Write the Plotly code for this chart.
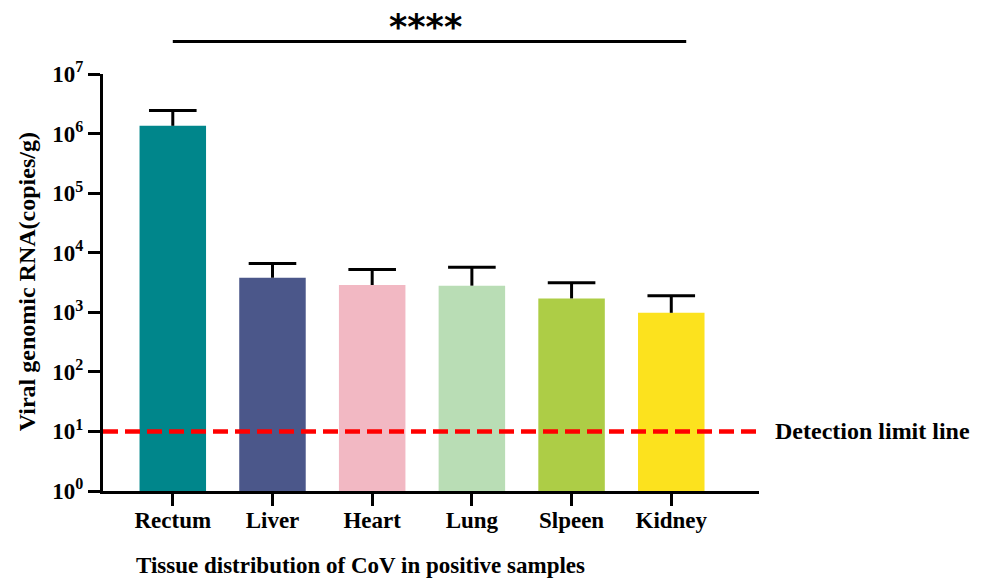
import plotly.graph_objects as go

categories = ["Rectum", "Liver", "Heart", "Lung", "Slpeen", "Kidney"]
means = [1.35e6, 3.8e3, 2.87e3, 2.8e3, 1.71e3, 0.98e3]
upper = [2.45e6, 6.6e3, 5.25e3, 5.7e3, 3.12e3, 1.89e3]
colors = ["#00868B", "#4B578A", "#F2B8C3", "#B9DDB5", "#ADCD46", "#FCE21E"]
detection_limit = 10
tick_vals = [1, 10, 100, 1e3, 1e4, 1e5, 1e6, 1e7]
tick_text = ["10<sup>%d</sup>" % i for i in range(8)]

FONT = "Liberation Serif"
xs = list(range(len(categories)))

fig = go.Figure()
fig.add_trace(go.Bar(
    x=xs, y=means,
    marker=dict(color=colors, line=dict(width=0)),
    width=0.667,
    error_y=dict(type="data", symmetric=False,
                 array=[u - m for u, m in zip(upper, means)],
                 arrayminus=[0] * len(means),
                 color="black", thickness=3, width=0),
    showlegend=False,
))
# error-bar caps (top only)
fig.add_trace(go.Scatter(
    x=xs, y=upper, mode="markers",
    marker=dict(symbol="line-ew", size=34, color="black",
                line=dict(color="black", width=3)),
    showlegend=False, hoverinfo="skip",
))

# detection limit line
fig.add_trace(go.Scatter(
    x=[-0.7, 5.87], y=[detection_limit, detection_limit], mode="lines",
    line=dict(color="#FF0000", width=4.5, dash="15px,7px"),
    showlegend=False, hoverinfo="skip",
))

fig.update_layout(
    width=975, height=571,
    margin=dict(l=95, r=224, t=66, b=88),
    plot_bgcolor="white", paper_bgcolor="white",
    font=dict(family=FONT, color="black", size=22, weight="bold"),
    xaxis=dict(
        range=[-0.7, 5.88], tickmode="array",
        tickvals=xs, ticktext=categories,
        showline=True, linecolor="black", linewidth=3,
        ticks="outside", ticklen=12, tickwidth=3, tickcolor="black",
        showgrid=False, zeroline=False, automargin=False,
        ticklabelstandoff=-6,
        tickfont=dict(family=FONT, size=23, weight="bold"),
    ),
    yaxis=dict(
        type="log", range=[0, 7], tickmode="array",
        tickvals=tick_vals, ticktext=tick_text,
        showline=True, linecolor="black", linewidth=3,
        ticks="outside", ticklen=12, tickwidth=3, tickcolor="black",
        showgrid=False, zeroline=False, automargin=False,
        tickfont=dict(family=FONT, size=23, weight="bold"),
    ),
    annotations=[
        dict(text="Viral genomic RNA(copies/g)", xref="paper", yref="paper",
             x=-0.116, y=0.503, textangle=-90, showarrow=False,
             xanchor="center", yanchor="middle",
             font=dict(family=FONT, size=24, weight="bold")),
        dict(text="Tissue distribution of CoV in positive samples",
             xref="paper", yref="paper", x=0.393, y=-0.178, showarrow=False,
             xanchor="center", yanchor="middle",
             font=dict(family=FONT, size=23, weight="bold")),
        dict(text="Detection limit line", xref="paper", yref="y",
             x=1.021, y=1, showarrow=False, xanchor="left", yanchor="middle",
             font=dict(family=FONT, size=24, weight="bold")),
        dict(text="****", xref="paper", yref="paper", x=0.492, y=1.113,
             showarrow=False, xanchor="center", yanchor="middle",
             font=dict(family="DejaVu Sans", size=35, weight="bold")),
    ],
    shapes=[
        dict(type="line", xref="x", yref="paper", x0=0, x1=5.15,
             y0=1.078, y1=1.078, line=dict(color="black", width=3)),
    ],
)

fig.write_html("out.html")
